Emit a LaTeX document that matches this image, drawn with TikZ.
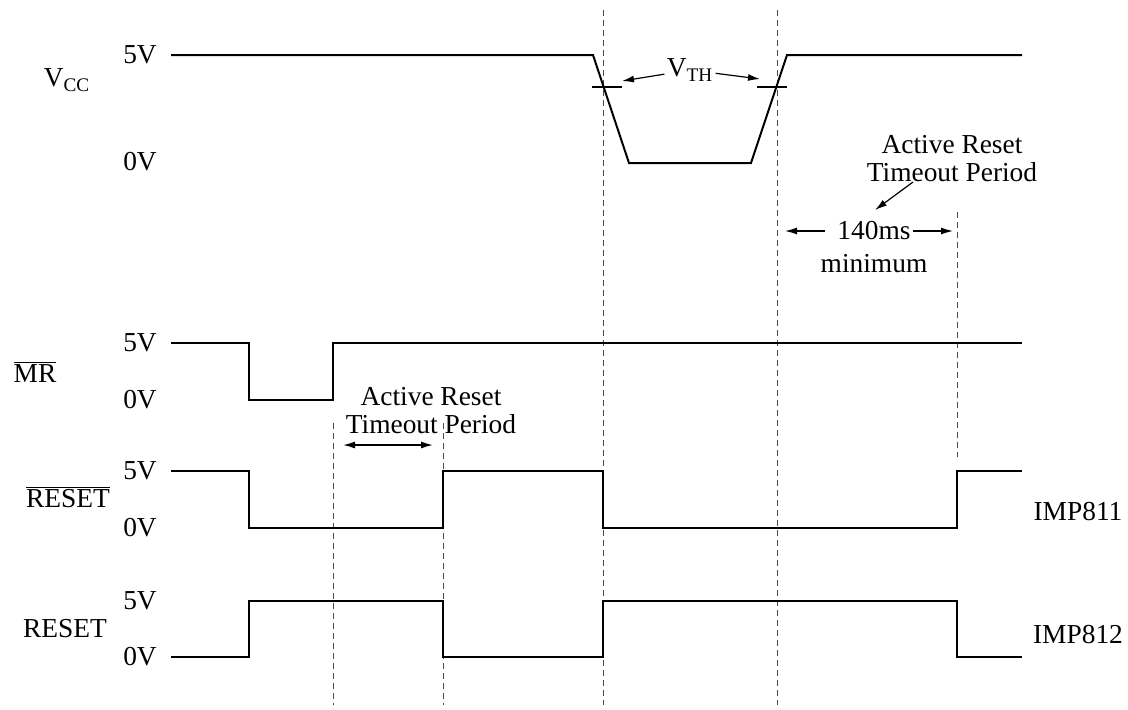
\documentclass[tikz,border=0pt]{standalone}
\usepackage{fontspec}
\setmainfont{Liberation Serif}
\usetikzlibrary{arrows.meta,positioning}

\begin{document}
\begin{tikzpicture}[x=0.5pt,y=-0.5pt,
  font=\fontsize{13.7}{14}\selectfont,
  wave/.style={line width=1pt,line join=miter},
  guide/.style={gray!60!black,line width=0.5pt,dash pattern=on 3pt off 2pt},
  tick/.style={line width=0.6pt},
  lbl/.style={inner sep=1pt,align=center},
  arrow/.style={-{Latex[length=6pt,width=3.5pt]},line width=0.6pt},
  darrow/.style={{Latex[length=6pt,width=3.5pt]}-{Latex[length=6pt,width=3.5pt]},line width=0.7pt}
]
\useasboundingbox (0,0) rectangle (1128,709);

% dashed time markers
\draw[guide] (333,423) -- (333,705);
\draw[guide] (443,423) -- (443,705);
\draw[guide] (603,10) -- (603,705);
\draw[guide] (777,10) -- (777,705);
\draw[guide] (957,212) -- (957,457);

% signal names
\node (vcc) at (67,80) {V\textsubscript{CC}};
\node (mr) at (35,372) {$\overline{\mbox{MR}}$};
\node (rstb) at (68,497) {$\overline{\mbox{RESET}}$};
\node (rst) at (65,629) {RESET};
\node (imp811) at (1078,512) {IMP811};
\node (imp812) at (1078,635) {IMP812};

% levels
\node (vcchi) at (140,55) {5V};
\node (vcclo) at (140,162) {0V};
\node (mrhi) at (140,343) {5V};
\node (mrlo) at (140,400) {0V};
\node (rstbhi) at (140,471) {5V};
\node (rstblo) at (140,528) {0V};
\node (rsthi) at (140,601) {5V};
\node (rstlo) at (140,657) {0V};

% waveforms
\draw[wave] (171,55) -- (593,55) -- (629,163) -- (751,163) -- (787,55) -- (1022,55);
\draw[wave] (171,343) -- (249,343) -- (249,400) -- (333,400) -- (333,343) -- (1022,343);
\draw[wave] (171,471) -- (249,471) -- (249,528) -- (443,528) -- (443,471) -- (603,471)
  -- (603,528) -- (957,528) -- (957,471) -- (1022,471);
\draw[wave] (171,657) -- (249,657) -- (249,601) -- (443,601) -- (443,657) -- (603,657)
  -- (603,601) -- (957,601) -- (957,657) -- (1022,657);

% threshold marks
\draw[tick] (592,87) -- (622,87);
\draw[tick] (757,87) -- (787,87);
\node[lbl] (vth) at (690,70) {V\textsubscript{TH}};
\coordinate (vthl) at (622,81);
\coordinate (vthr) at (760,79);
\draw[arrow] (vth) -- (vthl);
\draw[arrow] (vth) -- (vthr);

% power-up timeout
\node[lbl] (tout) at (952,159) {Active Reset\\Timeout Period};
\node[lbl] (min140) at (874,231) {140ms};
\node[lbl] (minimum) at (874,264) {minimum};
\coordinate (toutend) at (875,210);
\coordinate (minl) at (785,231);
\coordinate (minr) at (953,231);
\draw[arrow] (913,182) -- (toutend);
\draw[arrow] ([xshift=-5pt]min140.west) -- (minl);
\draw[arrow] (min140.east) -- (minr);

% manual reset timeout
\node[lbl] (tout2) at (431,411) {Active Reset\\Timeout Period};
\coordinate (tol) at (343,445);
\coordinate (tor) at (433,445);
\draw[darrow] (tol) -- (tor);
\end{tikzpicture}
\end{document}
